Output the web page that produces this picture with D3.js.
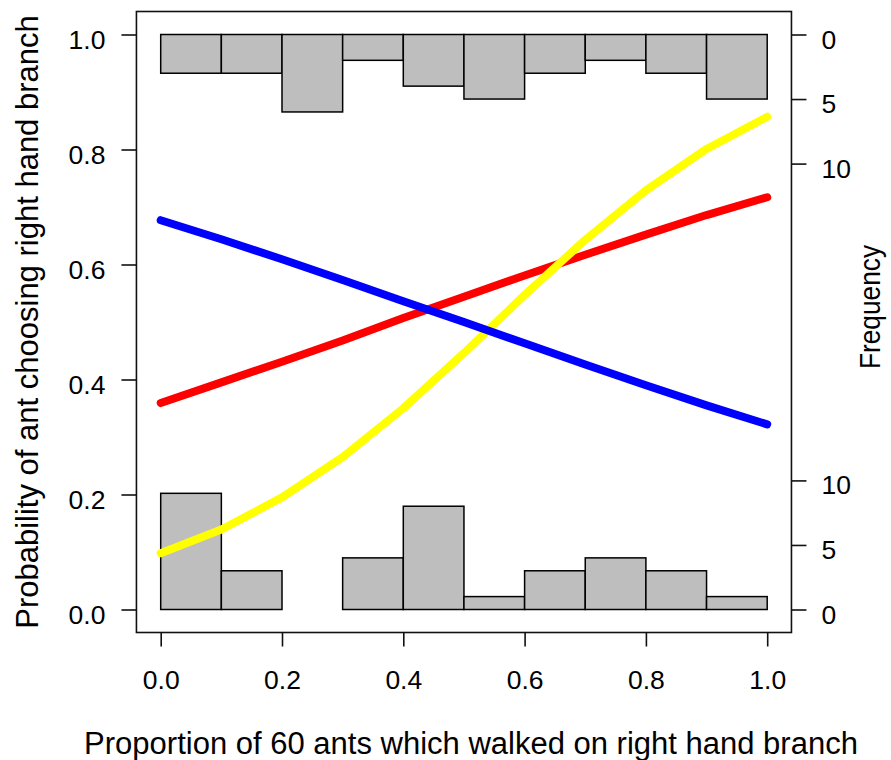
<!DOCTYPE html>
<html>
<head>
<meta charset="utf-8">
<script src="https://cdn.jsdelivr.net/npm/d3@7"></script>
<style>
  html, body { margin: 0; padding: 0; background: #fff; }
  svg { display: block; }
  text { font-family: "Liberation Sans", Arial, Helvetica, sans-serif; fill: #000; }
</style>
</head>
<body>
<svg id="chart" width="891" height="760"></svg>
<script>
// ---- data ----
const binEdges = [0, 0.1, 0.2, 0.3, 0.4, 0.5, 0.6, 0.7, 0.8, 0.9, 1.0];
// histogram counts of ants that chose the right branch (top) and left branch (bottom)
const countsTop    = [3, 3, 6, 2, 4, 5, 3, 2, 3, 5];
const countsBottom = [9, 3, 0, 4, 8, 1, 3, 4, 3, 1];
const xPoints = [0, 0.1, 0.2, 0.3, 0.4, 0.5, 0.6, 0.7, 0.8, 0.9, 1.0];
const redProb    = [0.359, 0.395, 0.431, 0.468, 0.507, 0.544, 0.581, 0.617, 0.652, 0.686, 0.717];
const blueProb   = [0.677, 0.644, 0.609, 0.573, 0.536, 0.500, 0.463, 0.426, 0.390, 0.355, 0.322];
const yellowProb = [0.098, 0.139, 0.195, 0.265, 0.350, 0.446, 0.547, 0.643, 0.729, 0.801, 0.857];
const xTicks = [0, 0.2, 0.4, 0.6, 0.8, 1.0];
const yTicks = [0, 0.2, 0.4, 0.6, 0.8, 1.0];
const freqTicks = [0, 5, 10];
const countUnit = 0.02245; // probability units per histogram count

// ---- layout ----
const svg = d3.select("#chart");
const x = d3.scaleLinear().domain([0, 1]).range([160.7, 767.2]);
const y = d3.scaleLinear().domain([0, 1]).range([609.5, 34.5]);
const xLeft = x(-0.04), xRight = x(1.04), yTop = y(1.04), yBottom = y(-0.04);

const fTop = d3.scaleLinear().domain([0, 10]).range([y(1), y(1 - 10 * countUnit)]);
const fBot = d3.scaleLinear().domain([0, 10]).range([y(0), y(10 * countUnit)]);

// histograms
const bins = countsTop.map((c, i) => ({x0: binEdges[i], x1: binEdges[i + 1], top: c, bot: countsBottom[i]}));
svg.append("g").selectAll("rect.top").data(bins.filter(d => d.top > 0)).join("rect")
  .attr("x", d => x(d.x0)).attr("width", d => x(d.x1) - x(d.x0))
  .attr("y", fTop(0)).attr("height", d => fTop(d.top) - fTop(0))
  .attr("fill", "#bebebe").attr("stroke", "#000").attr("stroke-width", 1.5);
svg.append("g").selectAll("rect.bot").data(bins.filter(d => d.bot > 0)).join("rect")
  .attr("x", d => x(d.x0)).attr("width", d => x(d.x1) - x(d.x0))
  .attr("y", d => fBot(d.bot)).attr("height", d => fBot(0) - fBot(d.bot))
  .attr("fill", "#bebebe").attr("stroke", "#000").attr("stroke-width", 1.5);

// curves
const line = d3.line().x((d, i) => x(xPoints[i])).y(d => y(d));
[[redProb, "#ff0000"], [yellowProb, "#ffff00"], [blueProb, "#0000ff"]].forEach(([vals, col]) => {
  svg.append("path").attr("d", line(vals)).attr("fill", "none")
    .attr("stroke", col).attr("stroke-width", 8)
    .attr("stroke-linecap", "round").attr("stroke-linejoin", "round");
});

// box
svg.append("rect").attr("x", xLeft).attr("y", yTop)
  .attr("width", xRight - xLeft).attr("height", yBottom - yTop)
  .attr("fill", "none").attr("stroke", "#111").attr("stroke-width", 1.6);

function styleAxis(g) {
  g.select(".domain").remove();
  g.selectAll(".tick line").attr("stroke", "#111").attr("stroke-width", 1.6);
  g.selectAll(".tick text").style("font-size", "26.5px").attr("fill", "#000");
}

// left axis
svg.append("g").attr("transform", `translate(${xLeft},0)`)
  .call(d3.axisLeft(y).tickValues(yTicks).tickFormat(d3.format(".1f")).tickSize(15).tickPadding(16))
  .call(styleAxis)
  .call(g => g.selectAll(".tick text").attr("dy", null).attr("y", 13.5));

// bottom axis
svg.append("g").attr("transform", `translate(0,${yBottom})`)
  .call(d3.axisBottom(x).tickValues(xTicks).tickFormat(d3.format(".1f")).tickSize(14))
  .call(styleAxis)
  .call(g => g.selectAll(".tick text").attr("dy", null).attr("y", 56));

// right axes (frequency)
[fTop, fBot].forEach(sc => {
  svg.append("g").attr("transform", `translate(${xRight},0)`)
    .call(d3.axisRight(sc).tickValues(freqTicks).tickFormat(d3.format("d")).tickSize(15).tickPadding(15))
    .call(styleAxis)
    .call(g => g.selectAll(".tick text").attr("dy", null).attr("y", 13.5));
});

// titles
svg.append("text").attr("x", 471).attr("y", 754).attr("text-anchor", "middle")
  .style("font-size", "31px").text("Proportion of 60 ants which walked on right hand branch");
svg.append("text").attr("transform", `translate(38,${(yTop + yBottom) / 2}) rotate(-90)`)
  .attr("text-anchor", "middle").style("font-size", "31px")
  .text("Probability of ant choosing right hand branch");
svg.append("text").attr("transform", `translate(880,307) rotate(-90)`)
  .attr("text-anchor", "middle").style("font-size", "29px")
  .attr("textLength", 124).attr("lengthAdjust", "spacingAndGlyphs").text("Frequency");
</script>
</body>
</html>
